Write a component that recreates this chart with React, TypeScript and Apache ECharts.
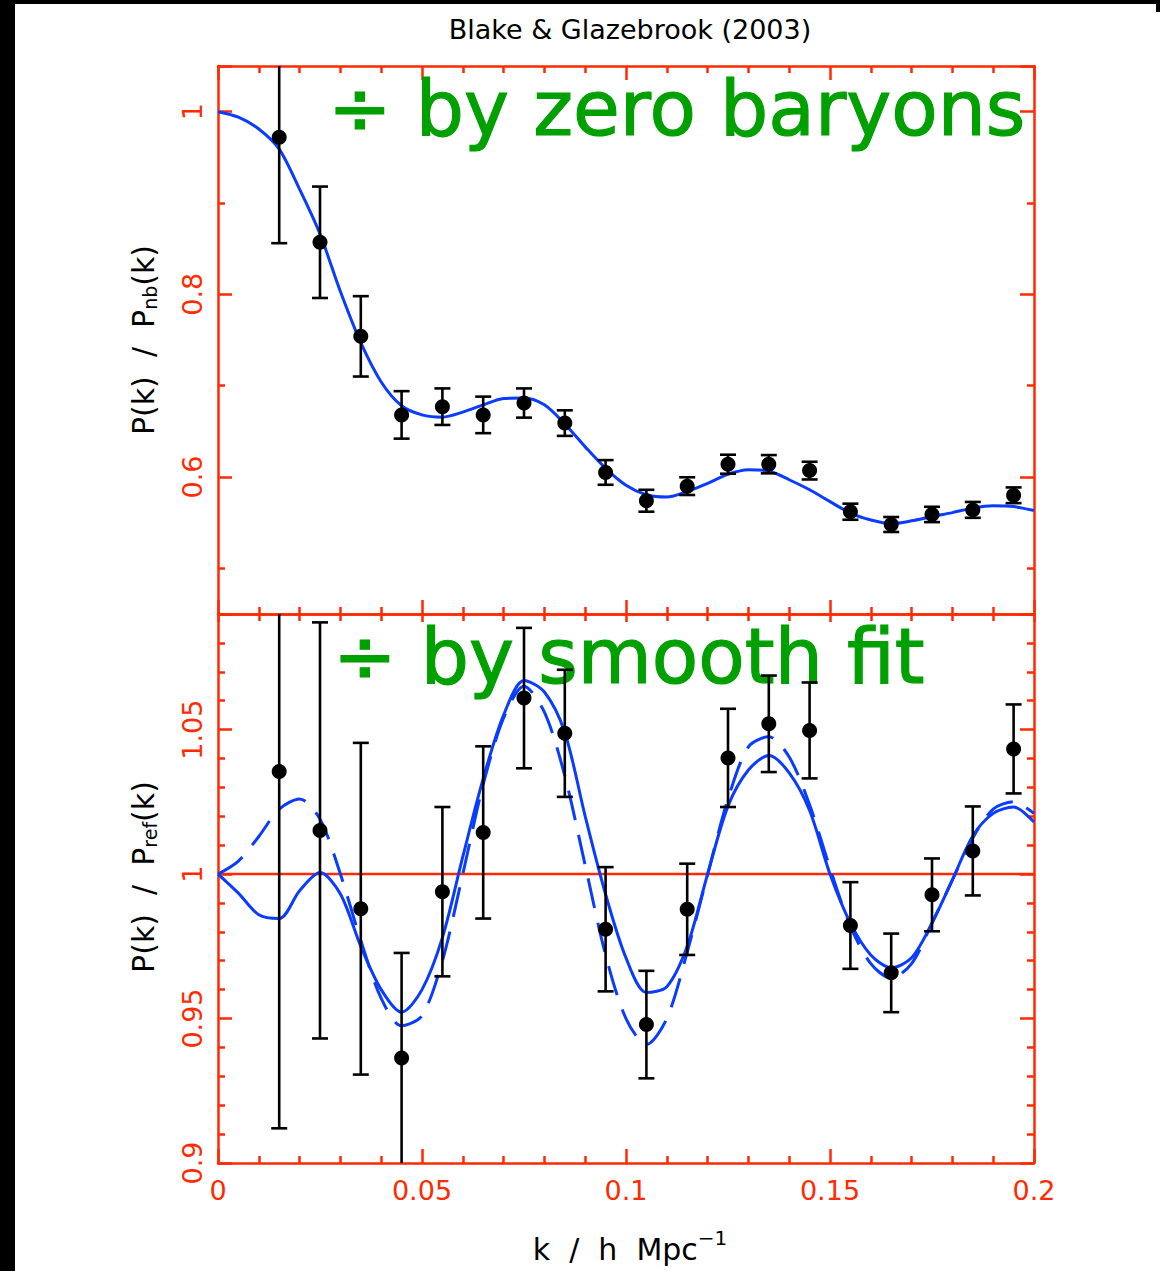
import React, { useEffect, useRef } from "react";
import * as echarts from "echarts";

const RED = "#ff2a00";
const BLUE = "#0a3cff";
const GREEN = "#00a000";
const FONT = "DejaVu Sans";

const titleText = "Blake & Glazebrook (2003)";
const topNote = "÷ by zero baryons";
const bottomNote = "÷ by smooth fit";

// band centres (k in h/Mpc)
const kBins = [0.015, 0.025, 0.035, 0.045, 0.055, 0.065, 0.075, 0.085, 0.095, 0.105, 0.115, 0.125, 0.135, 0.145, 0.155, 0.165, 0.175, 0.185, 0.195];

// upper panel: P(k)/P_nb(k)
const topValues = [0.972, 0.857, 0.754, 0.668, 0.677, 0.668, 0.681, 0.659, 0.605, 0.574, 0.590, 0.614, 0.614, 0.607, 0.562, 0.548, 0.559, 0.564, 0.580];
const topErrors = [0.116, 0.061, 0.044, 0.026, 0.020, 0.020, 0.016, 0.014, 0.0135, 0.012, 0.0097, 0.0104, 0.010, 0.0097, 0.0088, 0.0082, 0.0084, 0.0087, 0.0086];

// lower panel: P(k)/P_ref(k)
const bottomValues = [1.0355, 1.0151, 0.988, 0.9363, 0.9939, 1.0144, 1.0609, 1.0487, 0.9809, 0.9479, 0.9878, 1.0402, 1.052, 1.0497, 0.9822, 0.9658, 0.9928, 1.008, 1.0433];
const bottomErrors = [0.1235, 0.072, 0.0574, 0.0364, 0.0293, 0.0298, 0.0243, 0.022, 0.0215, 0.0186, 0.0158, 0.017, 0.0167, 0.0166, 0.015, 0.0136, 0.0126, 0.0154, 0.0154];

// model curves, read at these k
const kCurve = [0, 0.005, 0.01, 0.015, 0.02, 0.025, 0.03, 0.035, 0.04, 0.045, 0.05, 0.055, 0.06, 0.065, 0.07, 0.075, 0.08, 0.085, 0.09, 0.095, 0.1, 0.105, 0.11, 0.115, 0.12, 0.125, 0.13, 0.135, 0.14, 0.145, 0.15, 0.155, 0.16, 0.165, 0.17, 0.175, 0.18, 0.185, 0.19, 0.195, 0.2];
const topModel = [1.0, 0.994, 0.981, 0.959, 0.915, 0.866, 0.803, 0.747, 0.704, 0.678, 0.668, 0.6655, 0.671, 0.679, 0.686, 0.6865, 0.679, 0.658, 0.633, 0.6095, 0.591, 0.5805, 0.578, 0.584, 0.593, 0.603, 0.608, 0.6065, 0.597, 0.586, 0.573, 0.5605, 0.553, 0.549, 0.552, 0.5567, 0.561, 0.5659, 0.5684, 0.5676, 0.5633];
const bottomSolid = [1.0, 0.9934, 0.9859, 0.9846, 0.9942, 1.0005, 0.9931, 0.975, 0.960, 0.9522, 0.960, 0.978, 1.006, 1.033, 1.055, 1.067, 1.063, 1.049, 1.020, 0.993, 0.971, 0.959, 0.961, 0.975, 1.0, 1.0235, 1.036, 1.041, 1.035, 1.022, 1.0, 0.983, 0.972, 0.9676, 0.971, 0.983, 0.998, 1.0132, 1.021, 1.0232, 1.018];
const bottomDashed = [1.0, 1.0045, 1.013, 1.0225, 1.026, 1.019, 1.0, 0.977, 0.957, 0.9475, 0.951, 0.970, 1.0, 1.031, 1.054, 1.065, 1.056, 1.034, 1.003, 0.972, 0.950, 0.941, 0.950, 0.973, 0.9998, 1.026, 1.044, 1.0475, 1.0405, 1.024, 1.002, 0.982, 0.969, 0.964, 0.969, 0.983, 0.998, 1.0125, 1.0225, 1.025, 1.021];

const refLevel = 1;

const tickStyle = { color: RED, width: 2.5 };

function xAxisDef(gridIndex: number, position: string, showLabel: boolean, majorLen: number) {
  return {
    type: "value",
    gridIndex,
    position,
    min: 0,
    max: 0.2,
    interval: 0.05,
    axisLine: { show: true, onZero: false, lineStyle: { color: RED, width: 2.5 } },
    axisTick: { show: true, inside: true, length: majorLen, lineStyle: tickStyle },
    minorTick: { show: true, splitNumber: 5, length: 7, lineStyle: tickStyle },
    splitLine: { show: false },
    minorSplitLine: { show: false },
    axisLabel: { show: showLabel, color: RED, fontSize: 27, fontFamily: FONT, margin: 14 },
  };
}

function yAxisDef(gridIndex: number, position: string, showLabel: boolean, min: number, max: number, step: number, splitNumber: number, minorSplit: number, showMin: boolean) {
  return {
    type: "value",
    gridIndex,
    position,
    min,
    max,
    splitNumber,
    minInterval: step,
    maxInterval: step,
    axisLine: { show: true, onZero: false, lineStyle: { color: RED, width: 2.5 } },
    axisTick: { show: true, inside: true, length: 14, lineStyle: tickStyle },
    minorTick: { show: true, splitNumber: minorSplit, length: 7, lineStyle: tickStyle },
    splitLine: { show: false },
    minorSplitLine: { show: false },
    axisLabel: { show: showLabel, rotate: 90, color: RED, fontSize: 27, fontFamily: FONT, margin: 12, showMinLabel: showMin, showMaxLabel: false },
  };
}

function errorBarRender(params: any, api: any) {
  const x = api.value(0);
  const y = api.value(1);
  const e = api.value(2);
  const pTop = api.coord([x, y + e]);
  const pBot = api.coord([x, y - e]);
  const cs = params.coordSys;
  const yTop = Math.max(pTop[1], cs.y);
  const yBot = Math.min(pBot[1], cs.y + cs.height);
  const hw = 8;
  const st = { stroke: "#000", lineWidth: 2.6 };
  const children: any[] = [
    { type: "line", shape: { x1: pTop[0], y1: yTop, x2: pTop[0], y2: yBot }, style: st },
  ];
  if (pTop[1] >= cs.y) children.push({ type: "line", shape: { x1: pTop[0] - hw, y1: pTop[1], x2: pTop[0] + hw, y2: pTop[1] }, style: st });
  if (pBot[1] <= cs.y + cs.height) children.push({ type: "line", shape: { x1: pBot[0] - hw, y1: pBot[1], x2: pBot[0] + hw, y2: pBot[1] }, style: st });
  return { type: "group", children };
}

function buildOption() {
  const topPts = kBins.map((k, i) => [k, topValues[i], topErrors[i]]);
  const botPts = kBins.map((k, i) => [k, bottomValues[i], bottomErrors[i]]);
  const topCurve = kCurve.map((k, i) => [k, topModel[i]]);
  const solidCurve = kCurve.map((k, i) => [k, bottomSolid[i]]);
  const dashedCurve = kCurve.map((k, i) => [k, bottomDashed[i]]);
  const refLine = [[kCurve[0], refLevel], [kCurve[kCurve.length - 1], refLevel]];

  const dotStyle = { color: "#000", opacity: 1, borderWidth: 0 };

  return {
    animation: false,
    backgroundColor: "#ffffff",
    grid: [
      { left: 218, top: 66, width: 816, height: 548, outerBoundsMode: "none", containLabel: false },
      { left: 218, top: 614, width: 816, height: 549, outerBoundsMode: "none", containLabel: false },
    ],
    xAxis: [
      xAxisDef(0, "bottom", false, 14),
      xAxisDef(0, "top", false, 14),
      xAxisDef(1, "bottom", true, 14),
      xAxisDef(1, "top", false, 8),
    ],
    yAxis: [
      yAxisDef(0, "left", true, 0.45, 1.05, 0.2, 3, 2, false),
      yAxisDef(0, "right", false, 0.45, 1.05, 0.2, 3, 2, false),
      yAxisDef(1, "left", true, 0.9, 1.09, 0.05, 4, 5, true),
      yAxisDef(1, "right", false, 0.9, 1.09, 0.05, 4, 5, true),
    ],
    series: [
      {
        type: "line", xAxisIndex: 0, yAxisIndex: 0, data: topCurve, smooth: 0.3, showSymbol: false, z: 2,
        lineStyle: { color: BLUE, width: 3 },
      },
      {
        type: "line", xAxisIndex: 2, yAxisIndex: 2, data: refLine, showSymbol: false, z: 2,
        lineStyle: { color: RED, width: 2.5 },
      },
      {
        type: "line", xAxisIndex: 2, yAxisIndex: 2, data: solidCurve, smooth: 0.3, showSymbol: false, z: 2,
        lineStyle: { color: BLUE, width: 3 },
      },
      {
        type: "line", xAxisIndex: 2, yAxisIndex: 2, data: dashedCurve, smooth: 0.3, showSymbol: false, z: 2,
        lineStyle: { color: BLUE, width: 3, type: [30, 15] },
      },
      {
        type: "custom", xAxisIndex: 0, yAxisIndex: 0, data: topPts, renderItem: errorBarRender, z: 3,
        encode: { x: 0, y: 1 },
      },
      {
        type: "scatter", xAxisIndex: 0, yAxisIndex: 0, data: topPts.map((p) => [p[0], p[1]]), symbol: "circle", symbolSize: 15, z: 4,
        itemStyle: dotStyle,
      },
      {
        type: "custom", xAxisIndex: 2, yAxisIndex: 2, data: botPts, renderItem: errorBarRender, z: 3,
        encode: { x: 0, y: 1 },
      },
      {
        type: "scatter", xAxisIndex: 2, yAxisIndex: 2, data: botPts.map((p) => [p[0], p[1]]), symbol: "circle", symbolSize: 15, z: 4,
        itemStyle: dotStyle,
      },
    ],
    graphic: [
      { type: "rect", z: 10, shape: { x: 0, y: 0, width: 15, height: 1271 }, style: { fill: "#000" } },
      { type: "rect", z: 10, shape: { x: 0, y: 0, width: 1160, height: 4 }, style: { fill: "#000" } },
      { type: "rect", z: 10, shape: { x: 1156, y: 0, width: 4, height: 12 }, style: { fill: "#000" } },
      {
        type: "text", x: 630, y: 29, z: 5,
        style: { text: titleText, fontSize: 27, fontFamily: FONT, fill: "#000", align: "center", verticalAlign: "middle" },
      },
      {
        type: "text", x: 328, y: 108, z: 1,
        style: { text: topNote, fontSize: 76, fontFamily: FONT, fill: GREEN, stroke: GREEN, lineWidth: 1.2, align: "left", verticalAlign: "middle" },
      },
      {
        type: "text", x: 333, y: 656, z: 1,
        style: { text: bottomNote, fontSize: 76, fontFamily: FONT, fill: GREEN, stroke: GREEN, lineWidth: 1.2, align: "left", verticalAlign: "middle" },
      },
      {
        type: "text", x: 143, y: 340, rotation: Math.PI / 2, z: 5,
        style: {
          text: "{m|P(k)  /  P}{s|nb}{m|(k)}",
          align: "center", verticalAlign: "middle",
          rich: {
            m: { fontSize: 30, fontFamily: FONT, fill: "#000" },
            s: { fontSize: 19, fontFamily: FONT, fill: "#000", padding: [14, 0, 0, 0] },
          },
        },
      },
      {
        type: "text", x: 143, y: 877, rotation: Math.PI / 2, z: 5,
        style: {
          text: "{m|P(k)  /  P}{s|ref}{m|(k)}",
          align: "center", verticalAlign: "middle",
          rich: {
            m: { fontSize: 30, fontFamily: FONT, fill: "#000" },
            s: { fontSize: 19, fontFamily: FONT, fill: "#000", padding: [14, 0, 0, 0] },
          },
        },
      },
      {
        type: "text", x: 630, y: 1249, z: 5,
        style: {
          text: "{m|k  /  h  Mpc}{p|−1}",
          align: "center", verticalAlign: "middle",
          rich: {
            m: { fontSize: 30, fontFamily: FONT, fill: "#000" },
            p: { fontSize: 20, fontFamily: FONT, fill: "#000", padding: [0, 0, 22, 0] },
          },
        },
      },
    ],
  };
}

export default function App() {
  const ref = useRef<HTMLDivElement>(null);
  useEffect(() => {
    if (!ref.current) return;
    const chart = echarts.init(ref.current, null, { renderer: "svg" });
    chart.setOption(buildOption() as any);
    return () => chart.dispose();
  }, []);
  return (
    <div
      ref={ref}
      style={{ position: "absolute", left: 0, top: 0, width: 1160, height: 1271, background: "#fff" }}
    />
  );
}
